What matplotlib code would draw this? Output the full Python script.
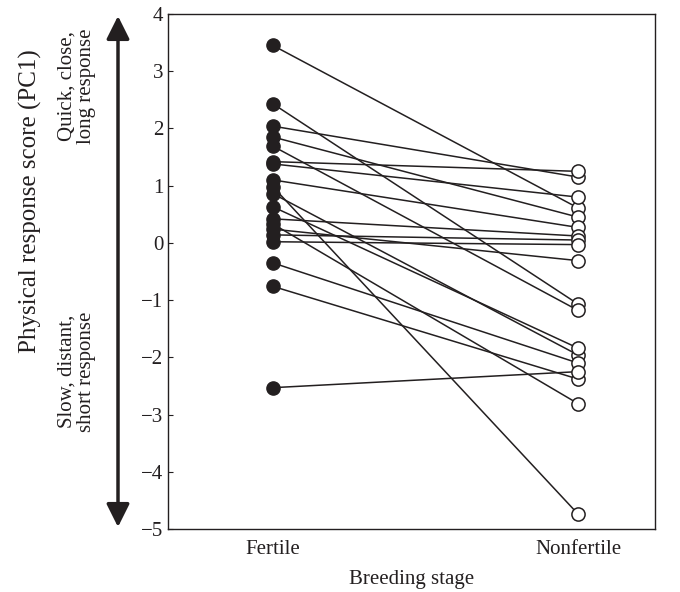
import matplotlib
matplotlib.use('Agg')
import matplotlib.pyplot as plt

plt.rcParams['font.family'] = ['Liberation Serif', 'DejaVu Serif']

# paired PC1 scores, fertile -> nonfertile
fertile = [3.45, 2.43, 2.04, 1.85, 1.69, 1.42, 1.38, 1.10, 0.98, 0.86,
           0.63, 0.42, 0.33, 0.24, 0.14, 0.02, -0.35, -0.76, -2.53]
nonfertile = [0.61, -1.07, 1.15, 0.45, -1.18, 1.25, 0.80, 0.27, -4.74, -1.96,
              -1.84, 0.12, -2.81, -0.31, 0.05, -0.03, -2.10, -2.38, -2.25]
stages = ['Fertile', 'Nonfertile']
yticks = [-5, -4, -3, -2, -1, 0, 1, 2, 3, 4]

ink = '#231f20'
fs = 15

fig = plt.figure(figsize=(6.8, 5.92), dpi=100)
ax = fig.add_axes([168 / 680, 1 - 529 / 592, 487 / 680, 515 / 592])

for f, n in zip(fertile, nonfertile):
    ax.plot([0, 1], [f, n], color=ink, lw=1.1, zorder=1)
ax.plot([0] * len(fertile), fertile, 'o', ms=9.5, color=ink, mec=ink, zorder=3)
ax.plot([1] * len(nonfertile), nonfertile, 'o', ms=9.5, mfc='white', mec=ink,
        mew=1.1, zorder=3)

ax.set_xlim(-0.344, 1.252)
ax.set_ylim(-5, 4)
ax.set_yticks(yticks)
ax.set_yticklabels([str(v).replace('-', '\u2212') for v in yticks])
ax.set_xticks([0, 1])
ax.set_xticklabels(stages)
ax.tick_params(axis='both', direction='in', labelsize=fs, colors=ink)
ax.tick_params(axis='x', length=0, pad=8)
for s in ax.spines.values():
    s.set_color(ink)
    s.set_linewidth(1.0)
ax.set_xlabel('Breeding stage', fontsize=fs, color=ink, labelpad=8)

# double-headed arrow on the left
ax.annotate('', xy=(118, 592 - 527), xytext=(118, 592 - 16),
            xycoords='figure pixels', textcoords='figure pixels',
            arrowprops=dict(arrowstyle='<|-|>,head_length=1.4,head_width=0.7',
                            color=ink, lw=2.5, shrinkA=0, shrinkB=0))

fig.text(30 / 680, 1 - 201 / 592, 'Physical response score (PC1)', rotation=90,
         ha='center', va='center', fontsize=18, color=ink)
fig.text(77 / 680, 1 - 28 / 592, 'Quick, close,\nlong response', rotation=90,
         ha='center', va='top', fontsize=fs, color=ink, linespacing=1.05)
fig.text(77 / 680, 1 - 432 / 592, 'Slow, distant,\nshort response', rotation=90,
         ha='center', va='bottom', fontsize=fs, color=ink, linespacing=1.05)

fig.savefig('out.png', dpi=100)
